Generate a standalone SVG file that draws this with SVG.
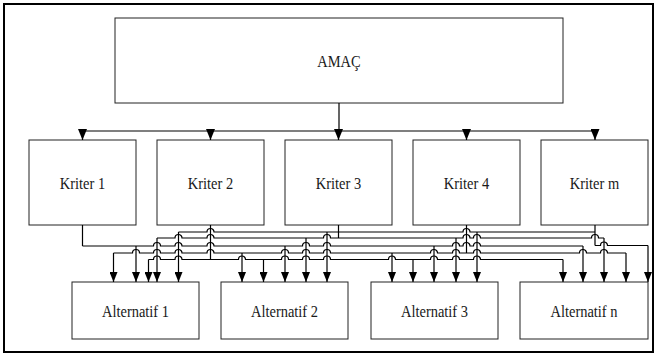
<svg xmlns="http://www.w3.org/2000/svg" width="660" height="356" viewBox="0 0 660 356">
<style>
.box{fill:#fff;stroke:#222;stroke-width:1}
.lbl{font-family:"Liberation Serif",serif;font-size:17px;fill:#1a1a1a;text-anchor:middle;dominant-baseline:central}
.ln{fill:none;stroke:#000;stroke-width:1.2}
.ar{fill:none;stroke:#000;stroke-width:1.2;marker-end:url(#ah)}
.art{fill:none;stroke:#000;stroke-width:1.2;marker-end:url(#ah2)}
</style>
<defs>
<marker id="ah" markerUnits="userSpaceOnUse" viewBox="0 0 10 8" refX="10" refY="4" markerWidth="10" markerHeight="8" orient="auto"><path d="M0,0 L10,4 L0,8 z" fill="#000"/></marker>
<marker id="ah2" markerUnits="userSpaceOnUse" viewBox="0 0 11 9" refX="11" refY="4.5" markerWidth="11" markerHeight="9" orient="auto"><path d="M0,0 L11,4.5 L0,9 z" fill="#000"/></marker>
</defs>
<rect x="4" y="4" width="649" height="348" fill="#fff" stroke="#000" stroke-width="2"/>
<g id="node-amac"><rect class="box" x="115" y="18" width="448" height="85"/><text class="lbl" transform="translate(339 61) scale(0.85 1)">AMAÇ</text></g>
<g id="node-kriter1"><rect class="box" x="29" y="140" width="107" height="85"/><text class="lbl" transform="translate(82.5 183) scale(0.85 1)">Kriter 1</text></g>
<g id="node-kriter2"><rect class="box" x="157" y="140" width="107" height="85"/><text class="lbl" transform="translate(210.5 183) scale(0.85 1)">Kriter 2</text></g>
<g id="node-kriter3"><rect class="box" x="285" y="140" width="107" height="85"/><text class="lbl" transform="translate(338.5 183) scale(0.85 1)">Kriter 3</text></g>
<g id="node-kriter4"><rect class="box" x="413" y="140" width="107" height="85"/><text class="lbl" transform="translate(466.5 183) scale(0.85 1)">Kriter 4</text></g>
<g id="node-kriterm"><rect class="box" x="541" y="140" width="107" height="85"/><text class="lbl" transform="translate(594.5 183) scale(0.85 1)">Kriter m</text></g>
<g id="node-alt1"><rect class="box" x="72" y="282" width="127" height="57"/><text class="lbl" transform="translate(135.5 311) scale(0.85 1)">Alternatif 1</text></g>
<g id="node-alt2"><rect class="box" x="221" y="282" width="127" height="57"/><text class="lbl" transform="translate(284.5 311) scale(0.85 1)">Alternatif 2</text></g>
<g id="node-alt3"><rect class="box" x="371" y="282" width="127" height="57"/><text class="lbl" transform="translate(434.5 311) scale(0.85 1)">Alternatif 3</text></g>
<g id="node-altn"><rect class="box" x="520" y="282" width="128" height="57"/><text class="lbl" transform="translate(584 311) scale(0.85 1)">Alternatif n</text></g>
<g id="connectors">
<path class="ln" d="M339 103 V131 M82.5 131 H595"/>
<path class="art" d="M82.5 131 V140"/>
<path class="art" d="M210.5 131 V140"/>
<path class="art" d="M338.5 131 V140"/>
<path class="art" d="M466.5 131 V140"/>
<path class="art" d="M595 131 V140"/>
<path class="ln" d="M82.5 225 V246 M210.5 225 V259.5 M338.5 225 V238 M466.5 225 V253 M595 225 V245.5"/>
<path class="ln" d="M178.5 232 H207 a3.5 3.5 0 0 1 7 0 H463 a3.5 3.5 0 0 1 7 0 H595"/>
<path class="ln" d="M157 238 H175 a3.5 3.5 0 0 1 7 0 H207 a3.5 3.5 0 0 1 7 0 H323.5 a3.5 3.5 0 0 1 7 0 H463 a3.5 3.5 0 0 1 7 0 H473.5 a3.5 3.5 0 0 1 7 0 H591.5 a3.5 3.5 0 0 1 7 0 H604"/>
<path class="ln" d="M82.5 246 H153.5 a3.5 3.5 0 0 1 7 0 H175 a3.5 3.5 0 0 1 7 0 H207 a3.5 3.5 0 0 1 7 0 H302.5 a3.5 3.5 0 0 1 7 0 H323.5 a3.5 3.5 0 0 1 7 0 H452.5 a3.5 3.5 0 0 1 7 0 H463 a3.5 3.5 0 0 1 7 0 H473.5 a3.5 3.5 0 0 1 7 0 H583"/>
<path class="ln" d="M113.5 253 H132.5 a3.5 3.5 0 0 1 7 0 H153.5 a3.5 3.5 0 0 1 7 0 H175 a3.5 3.5 0 0 1 7 0 H207 a3.5 3.5 0 0 1 7 0 H281.5 a3.5 3.5 0 0 1 7 0 H302.5 a3.5 3.5 0 0 1 7 0 H323.5 a3.5 3.5 0 0 1 7 0 H430.5 a3.5 3.5 0 0 1 7 0 H452.5 a3.5 3.5 0 0 1 7 0 H473.5 a3.5 3.5 0 0 1 7 0 H579.5 a3.5 3.5 0 0 1 7 0 H600.5 a3.5 3.5 0 0 1 7 0 H626"/>
<path class="ln" d="M148.5 259.5 H153.5 a3.5 3.5 0 0 1 7 0 H175 a3.5 3.5 0 0 1 7 0 H238.5 a3.5 3.5 0 0 1 7 0 H281.5 a3.5 3.5 0 0 1 7 0 H302.5 a3.5 3.5 0 0 1 7 0 H323.5 a3.5 3.5 0 0 1 7 0 H388.5 a3.5 3.5 0 0 1 7 0 H430.5 a3.5 3.5 0 0 1 7 0 H452.5 a3.5 3.5 0 0 1 7 0 H473.5 a3.5 3.5 0 0 1 7 0 H563"/>
<path class="ln" d="M595 245.5 H600.5 a3.5 3.5 0 0 1 7 0 H648"/>
<path class="ar" d="M113.5 253 V282"/>
<path class="ar" d="M242 253 V282"/>
<path class="ar" d="M392 253 V282"/>
<path class="ar" d="M626 253 V282"/>
<path class="ar" d="M136 246 V282"/>
<path class="ar" d="M285 246 V282"/>
<path class="ar" d="M434 246 V282"/>
<path class="ar" d="M583 246 V282"/>
<path class="ar" d="M148.5 259.5 V282"/>
<path class="ar" d="M263.5 259.5 V282"/>
<path class="ar" d="M413 259.5 V282"/>
<path class="ar" d="M563 259.5 V282"/>
<path class="ar" d="M157 238 V282"/>
<path class="ar" d="M306 238 V282"/>
<path class="ar" d="M456 238 V282"/>
<path class="ar" d="M604 238 V282"/>
<path class="ar" d="M178.5 232 V282"/>
<path class="ar" d="M327 232 V282"/>
<path class="ar" d="M477 232 V282"/>
<path class="ar" d="M648 245.5 V282"/>
</g>
</svg>
